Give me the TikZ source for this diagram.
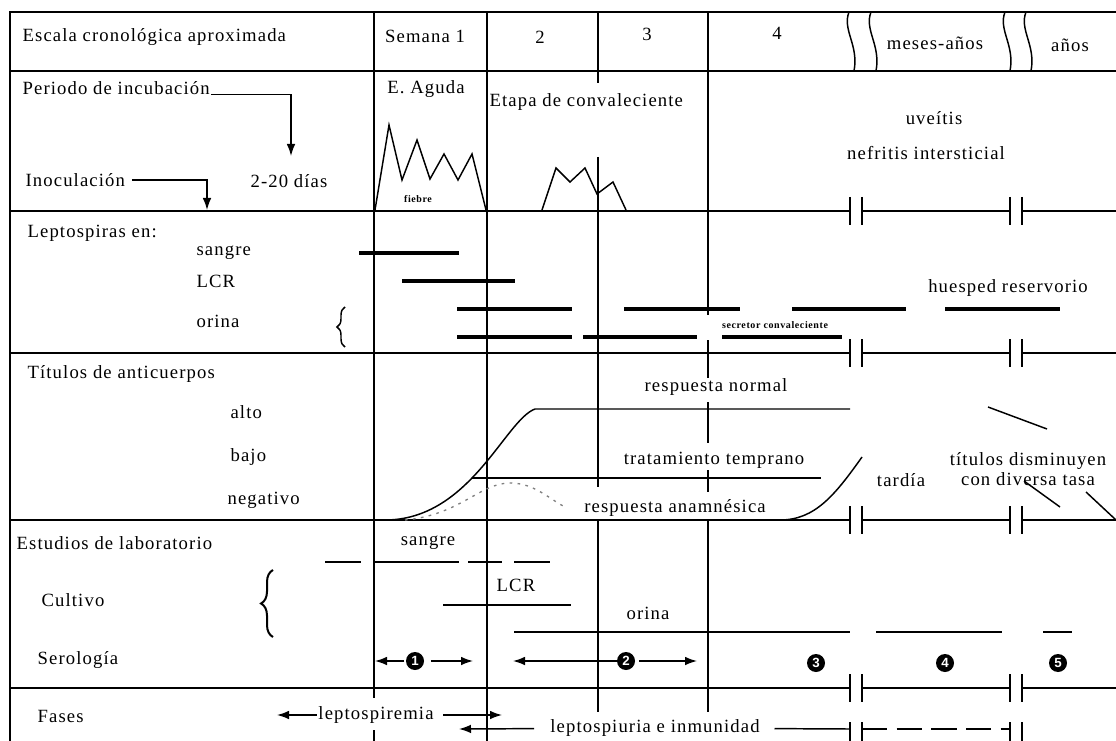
\documentclass[tikz,border=0pt]{standalone}
\usepackage{fontspec}
\setmainfont{Liberation Serif}[LetterSpace=6]
\setsansfont{Liberation Sans}
\usetikzlibrary{arrows.meta,decorations.pathreplacing}

\tikzset{
	rule/.style={line width=1.1pt},
	frame/.style={line width=2pt},
	bar/.style={line width=3pt},
	arr/.style={line width=1.1pt,-{Latex[length=9pt,width=6.5pt]}},
	lbl/.style={anchor=west,inner sep=1pt},
	txt/.style={inner sep=1pt},
	tiny/.style={inner sep=0pt,font=\fontsize{7.5}{7.5}\selectfont\bfseries},
	num/.style={circle,fill=black,text=white,inner sep=0pt,minimum size=13.5pt,font=\fontsize{10}{10}\selectfont\sffamily\bfseries},
	curly/.style={decorate,decoration={brace,amplitude=#1}},
	curly/.default=6pt,
}

\begin{document}
\begin{tikzpicture}[x=0.75pt,y=-0.75pt,font=\fontsize{14}{14.5}\selectfont]
	\useasboundingbox (0,0) rectangle (1116,741);
	% \draw[step=100,gray!50,very thin] (0,0) grid (1116,741);
	% Frame and rows
	\draw[frame] (10,741) -- (10,12) -- (1116,12);
	\draw[rule] (10,71) -- (1116,71);
	\foreach \y in {211,353,520,688}
		\draw[rule] (10,\y) -- (850,\y) (862,\y) -- (1010,\y) (1022,\y) -- (1116,\y);
	% Breaks
	\foreach \y in {211,353,520,688}
		\foreach \x in {850,862,1010,1022}
			\draw[rule] (\x,\y-14) -- (\x,\y+14);
	\foreach \x in {850,862,1010,1022}
		\draw[rule] (\x,722) -- (\x,741);
	\foreach \x in {849,871,1005,1026}
		\draw[rule] (\x,12) .. controls (\x-7,30) and (\x+10,45) .. (\x+5,71);
	% Columns
	\draw[rule] (374,12) -- (374,698) (374,730) -- (374,741);
	\draw[rule] (487,12) -- (487,741);
	\draw[rule] (598,12) -- (598,83) (598,157) -- (598,487) (598,520) -- (598,712);
	\draw[rule] (708,12) -- (708,315) (708,340) -- (708,378) (708,402) -- (708,443) (708,470) -- (708,492) (708,520) -- (708,712);

	% Header
	\node[lbl] (escala) at (21,37) {Escala cronológica aproximada};
	\node[txt] (sem1) at (425,36) {Semana 1};
	\node[txt] (sem2) at (540,37) {2};
	\node[txt] (sem3) at (647,34) {3};
	\node[txt] (sem4) at (777,33) {4};
	\node[txt] (meses) at (935,43) {meses-años};
	\node[txt] (anos) at (1070,45) {años};

	% Incubation
	\node[lbl] (incub) at (21,88) {Periodo de incubación};
	\node[lbl] (inoc) at (24,180) {Inoculación};
	\node[txt] (dias) at (289,181) {2-20 días};
	\coordinate (incubT) at (291,156);
	\coordinate (inocT) at (207,210);
	\draw[arr] (incub.base east) -| (incubT);
	\draw[arr,shorten <=4pt] (inoc.east) -| (inocT);
	\node[txt] (aguda) at (426,89) {E. Aguda};
	\node[lbl] (etapa) at (488,102) {Etapa de convaleciente};
	\node[tiny] (fiebre) at (418,199) {fiebre};
	\node[txt] (uveitis) at (934,118) {uveítis};
	\node[txt] (nefritis) at (926,153) {nefritis intersticial};
	% Fever
	\draw[rule] (375,210) -- (389,125) -- (402,180) -- (417,140) -- (430,179) -- (444,154) -- (458,180) -- (472,154) -- (486,210);
	\draw[rule] (542,210) -- (556,168) -- (570,182) -- (585,168) -- (597,194) -- (613,182) -- (626,210);

	% Leptospiras
	\node[lbl] (lepto) at (26,233) {Leptospiras en:};
	\node[lbl] (sangre) at (195,253) {sangre};
	\node[lbl] (lcr) at (195,281) {LCR};
	\node[lbl] (orina) at (195,321) {orina};
	\draw[rule,curly=6pt] (345,347) -- (345,307);
	\draw[bar] (359,253) -- (459,253);
	\draw[bar] (402,281) -- (515,281);
	\draw[bar] (457,309) -- (572,309) (624,309) -- (740,309) (792,309) -- (906,309) (945,309) -- (1060,309);
	\draw[bar] (457,337) -- (572,337) (583,337) -- (697,337) (722,337) -- (842,337);
	\node[tiny] (secretor) at (775,325) {secretor convaleciente};
	\node[txt] (huesped) at (1008,288) {huesped reservorio};

	% Titulos
	\node[lbl] (titulos) at (26,374) {Títulos de anticuerpos};
	\node[lbl] (alto) at (229,412) {alto};
	\node[lbl] (bajo) at (229,457) {bajo};
	\node[lbl] (neg) at (226,500) {negativo};
	\draw[rule] (385,520) .. controls (470,520) and (505,420) .. (535,409) -- (850,409);
	\draw[rule] (472,478) -- (821,478);
	\draw[gray,line width=1pt,dash pattern=on 2pt off 4pt] (405,520) .. controls (460,515) and (480,483) .. (510,483) .. controls (535,483) and (550,500) .. (567,508);
	\draw[rule] (780,520) .. controls (815,520) and (835,495) .. (862,457);
	\node[txt] (normal) at (716,387) {respuesta normal};
	\node[txt] (temprano) at (714,460) {tratamiento temprano};
	\node[txt] (anamn) at (675,508) {respuesta anamnésica};
	\node[txt] (tardia) at (901,480) {tardía};
	\node[txt,align=center] (disminuyen) at (1028,469) {títulos disminuyen\\con diversa tasa};
	\draw[rule] (988,407) -- (1047,429);
	\draw[rule] (1024,481) -- (1060,507);
	\draw[rule] (1086,492) -- (1116,520);

	% Estudios
	\node[lbl] (estudios) at (15,543) {Estudios de laboratorio};
	\node[txt] (esangre) at (428,543) {sangre};
	\node[txt] (elcr) at (516,585) {LCR};
	\node[txt] (eorina) at (648,613) {orina};
	\node[lbl] (cultivo) at (40,600) {Cultivo};
	\node[lbl] (serol) at (36,660) {Serología};
	\draw[line width=1.5pt,curly=9pt] (273,637) -- (273,570);
	\draw[line width=2pt] (325,562) -- (361,562) (374,562) -- (459,562) (468,562) -- (502,562) (514,562) -- (550,562);
	\draw[line width=1.3pt] (443,605) -- (571,605);
	\draw[line width=1.3pt] (514,632) -- (850,632) (876,632) -- (1002,632) (1043,632) -- (1072,632);
	% Serologia phases
	\node[num] (n1) at (415,661) {1};
	\node[num] (n2) at (626,661) {2};
	\node[num] (n3) at (816,663) {3};
	\node[num] (n4) at (945,663) {4};
	\node[num] (n5) at (1058,663) {5};
	\coordinate (s1L) at (375,661);
	\coordinate (s1R) at (473,661);
	\coordinate (s2L) at (513,661);
	\coordinate (s2R) at (697,661);
	\draw[arr,shorten <=1pt] (n1) -- (s1L);
	\draw[arr,shorten <=5pt] (n1) -- (s1R);
	\draw[arr] (n2) -- (s2L);
	\draw[arr,shorten <=3pt] (n2) -- (s2R);

	% Fases
	\node[lbl] (fases) at (36,716) {Fases};
	\node[txt] (lspm) at (376,715) {leptospiremia};
	\node[txt] (lspu) at (655,728) {leptospiuria e inmunidad};
	\coordinate (f1L) at (277,715);
	\coordinate (f1R) at (502,715);
	\coordinate (f2L) at (459,729);
	\coordinate (f2R) at (850,729);
	\draw[arr] (lspm) -- (f1L);
	\draw[arr,shorten <=6pt] (lspm) -- (f1R);
	\draw[arr,shorten <=11pt] (lspu) -- (f2L);
	\draw[rule,shorten <=10pt] (lspu) -- (f2R);
	\draw[rule,dash pattern=on 19pt off 7pt] (862,729) -- (1010,729);
\end{tikzpicture}
\end{document}
